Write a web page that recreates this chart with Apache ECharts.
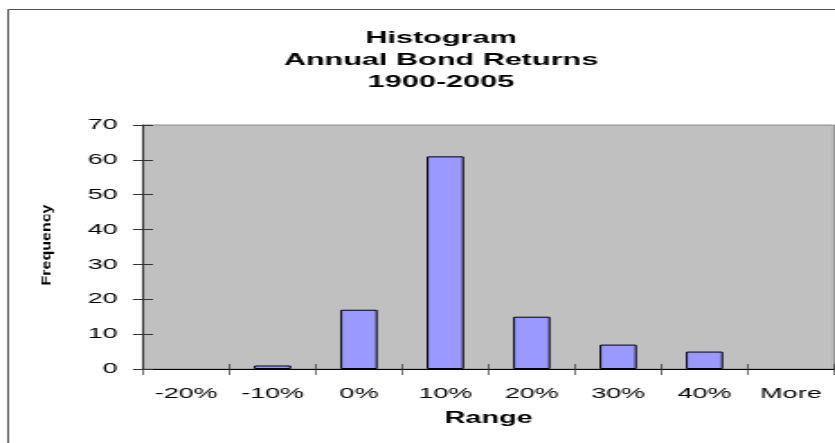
<!DOCTYPE html>
<html>
<head>
<meta charset="utf-8">
<script src="https://cdn.jsdelivr.net/npm/echarts@6/dist/echarts.min.js"></script>
<style>
  html, body { margin: 0; padding: 0; background: #fff; overflow: hidden; }
  /* The chart is laid out narrow and stretched sideways, like the wide spreadsheet export */
  #chart { width: 464px; height: 443px; transform: scaleX(1.8); transform-origin: 0 0; }
</style>
</head>
<body>
<div id="chart"></div>
<script>
// Histogram bins and counts (annual bond returns, 1900-2005)
const categories = ['-20%', '-10%', '0%', '10%', '20%', '30%', '40%', 'More'];
const frequency = [0, 1, 17, 61, 15, 7, 5, 0];
const titleLines = ['Histogram', 'Annual Bond Returns', '1900-2005'];
const yAxisTitle = 'Frequency';
const xAxisTitle = 'Range';
const yMin = 0, yMax = 70, yStep = 10;

const FONT = '"Liberation Sans", Arial, sans-serif';
const chart = echarts.init(document.getElementById('chart'));

const grid = { left: 79.4, right: 0.6, top: 125, bottom: 74, show: true,
  backgroundColor: '#c0c0c0', borderColor: '#8c8c8c', borderWidth: 1 };

// empty bins get no outline so nothing shows on the axis
const barData = frequency.map(v => v === 0
  ? { value: v, itemStyle: { borderWidth: 0, opacity: 0 } }
  : { value: v });

chart.setOption({
  animation: false,
  title: {
    text: titleLines.join('\n'),
    left: 240, top: 22, textAlign: 'center',
    textStyle: { fontFamily: FONT, fontSize: 17, fontWeight: 'bold', color: '#000', lineHeight: 22 }
  },
  graphic: [{
    type: 'rect', silent: true, z: 100,
    shape: { x: 4.5, y: 9.5, width: 600, height: 600 },
    style: { fill: null, stroke: '#222', lineWidth: 0.8 }
  }, {
    // vertical axis title, set in a thin rotated run
    type: 'text', silent: true,
    x: 26.1, y: 245, rotation: Math.PI / 2, scaleX: 1, scaleY: 0.5,
    style: { text: yAxisTitle, fontFamily: FONT, fontSize: 16, fontWeight: 'bold',
      fill: '#000', align: 'center', verticalAlign: 'middle' }
  }],
  grid: grid,
  xAxis: [{
    type: 'category', data: categories, position: 'bottom',
    name: xAxisTitle, nameLocation: 'middle', nameGap: 42,
    nameTextStyle: { fontFamily: FONT, fontSize: 16, fontWeight: 'bold', color: '#000' },
    axisLine: { lineStyle: { color: '#000', width: 1 } },
    axisTick: { show: true, inside: false, length: 6, lineStyle: { color: '#333', width: 0.7 } },
    axisLabel: { fontFamily: FONT, fontSize: 15, color: '#000', margin: 17, interval: 0 },
    splitLine: { show: false }
  }, {
    type: 'category', data: categories, position: 'bottom',
    axisLine: { show: false },
    axisTick: { show: true, inside: true, length: 5, lineStyle: { color: '#333', width: 0.7 } },
    axisLabel: { show: false },
    splitLine: { show: false }
  }],
  yAxis: [{
    type: 'value', min: yMin, max: yMax, interval: yStep, position: 'left',
    axisLine: { show: true, lineStyle: { color: '#333', width: 1.1 } },
    axisTick: { show: true, inside: false, length: 5.6, lineStyle: { color: '#333', width: 1 } },
    axisLabel: { fontFamily: FONT, fontSize: 15, color: '#000', margin: 14 },
    splitLine: { show: false }
  }, {
    type: 'value', min: yMin, max: yMax, interval: yStep, position: 'left',
    axisLine: { show: false },
    axisTick: { show: true, inside: true, length: 5.6, lineStyle: { color: '#333', width: 1 } },
    axisLabel: { show: false },
    splitLine: { show: false }
  }],
  series: [{
    type: 'bar', data: barData, xAxisIndex: 0, yAxisIndex: 0,
    barWidth: '43%',
    itemStyle: { color: '#9999ff', borderColor: '#000', borderWidth: 1 }
  }]
});
</script>
</body>
</html>
